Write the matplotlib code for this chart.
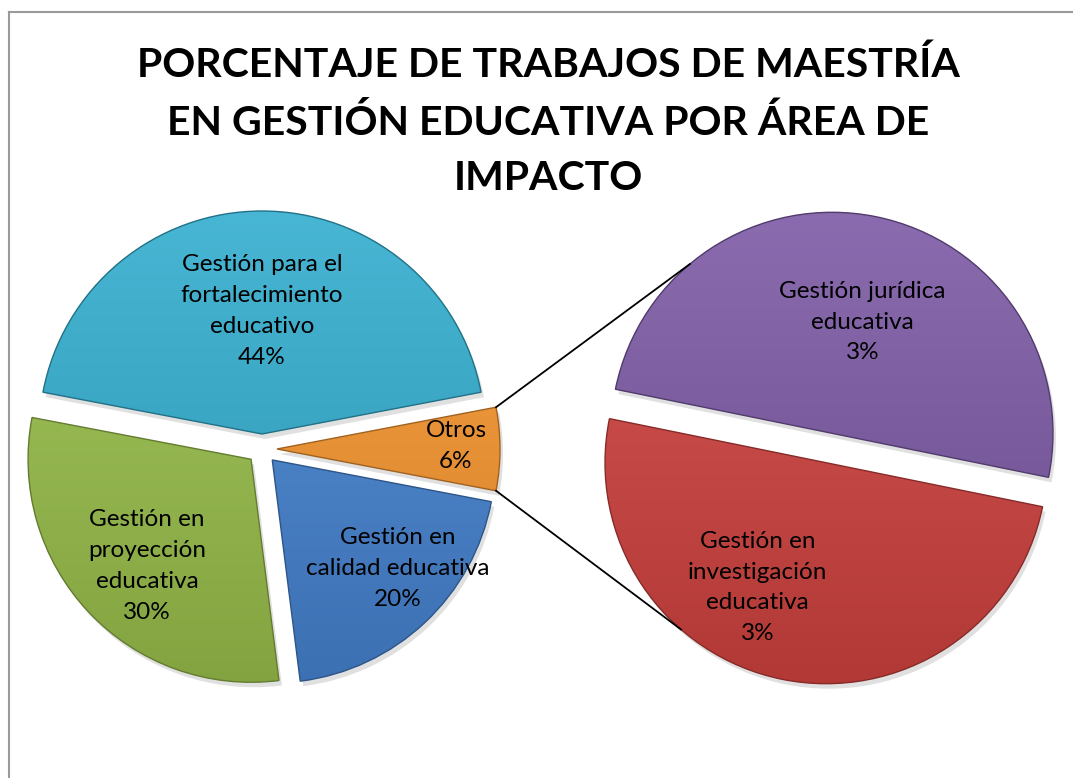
import numpy as np
import matplotlib
matplotlib.use('Agg')
import matplotlib.pyplot as plt
from matplotlib.colors import to_rgb
from matplotlib.patches import Wedge
from matplotlib.lines import Line2D

# ---------------- data ----------------
title = 'PORCENTAJE DE TRABAJOS DE MAESTRÍA\nEN GESTIÓN EDUCATIVA POR ÁREA DE\nIMPACTO'
main_labels = ['Gestión para el\nfortalecimiento\neducativo',
               'Gestión en\nproyección\neducativa',
               'Gestión en\ncalidad educativa',
               'Otros']
main_values = [44, 30, 20, 6]
sub_labels = ['Gestión jurídica\neducativa',
              'Gestión en\ninvestigación\neducativa']
sub_values = [3, 3]

# ---------------- style / layout ----------------
main_colors = ['#33AECF', '#98BE4A', '#4583D0', '#F7962F']
sub_colors = ['#7D5BA6', '#CF423F']
W, H = 1073, 778
main_center = (262, 329)
sub_center = (829, 330)
main_radius = 223
sub_radius = 221
explode_px = 15
main_start = 10.8
sub_start = -11.5
# label placement: (fraction of radius, angle in degrees) from pie centre
main_label_pos = [(0.62, 90), (0.735, 225.5), (0.81, -41.4), (0.87, 1)]
sub_label_pos = [(0.59, 75), (0.71, 242.8)]
connector_angles = (130, 229)

FONT = 'Lato'
plt.rcParams['font.family'] = [FONT, 'DejaVu Sans']

fig = plt.figure(figsize=(W / 100, H / 100), dpi=100)
ax = fig.add_axes([0, 0, 1, 1])


def shade(color, f):
    c = np.array(to_rgb(color))
    if f > 0:
        return c + (1 - c) * f
    return c * (1 + f)


def draw_pie(values, colors, center, radius, start):
    wedges, _ = ax.pie(values, colors=colors, startangle=start, counterclock=True,
                       radius=radius, center=center,
                       explode=[explode_px] * len(values),
                       wedgeprops=dict(linewidth=1.0), frame=False)
    for w, col in zip(wedges, colors):
        cx, cy = w.center
        r = w.r
        # soft shadow
        sh = Wedge((cx + 3, cy - 5), r, w.theta1, w.theta2, facecolor='black',
                   alpha=0.12, edgecolor='none', zorder=0.5)
        ax.add_patch(sh)
        # vertical gradient fill clipped to the wedge
        n = 256
        t = np.linspace(0, 1, n)[:, None]
        lo = shade(col, -0.14)
        hi = shade(col, 0.10)
        grad = (lo[None, :] * (1 - t) + hi[None, :] * t)[:, None, :]
        im = ax.imshow(grad, extent=[cx - r, cx + r, cy - r, cy + r],
                       origin='lower', aspect='auto', zorder=1,
                       interpolation='bilinear')
        im.set_clip_path(w)
        w.set_facecolor('none')
        w.set_edgecolor(shade(col, -0.35))
        w.set_zorder(2)
    return wedges


main_w = draw_pie(main_values, main_colors, main_center, main_radius, main_start)
sub_w = draw_pie(sub_values, sub_colors, sub_center, sub_radius, sub_start)

# labels
fs = 17.5
ls = 1.58
for lab, val, (fr, ang) in zip(main_labels, main_values, main_label_pos):
    x = main_center[0] + fr * main_radius * np.cos(np.radians(ang))
    y = main_center[1] + fr * main_radius * np.sin(np.radians(ang))
    ax.text(x, y, f'{lab}\n{val}%', ha='center', va='center', fontsize=fs,
            linespacing=ls, color='black', zorder=5)
for lab, val, (fr, ang) in zip(sub_labels, sub_values, sub_label_pos):
    x = sub_center[0] + fr * sub_radius * np.cos(np.radians(ang))
    y = sub_center[1] + fr * sub_radius * np.sin(np.radians(ang))
    ax.text(x, y, f'{lab}\n{val}%', ha='center', va='center', fontsize=fs,
            linespacing=ls, color='black', zorder=5)

# connector lines from "Otros" wedge corners to the secondary pie
ow = main_w[-1]
ocx, ocy = ow.center
p_top = (ocx + ow.r * np.cos(np.radians(ow.theta2)), ocy + ow.r * np.sin(np.radians(ow.theta2)))
p_bot = (ocx + ow.r * np.cos(np.radians(ow.theta1)), ocy + ow.r * np.sin(np.radians(ow.theta1)))
tw, bw = sub_w[0], sub_w[1]
q_top = (tw.center[0] + tw.r * np.cos(np.radians(connector_angles[0])),
         tw.center[1] + tw.r * np.sin(np.radians(connector_angles[0])))
q_bot = (bw.center[0] + bw.r * np.cos(np.radians(connector_angles[1])),
         bw.center[1] + bw.r * np.sin(np.radians(connector_angles[1])))
ax.add_line(Line2D([p_top[0], q_top[0]], [p_top[1], q_top[1]], color='black', lw=1.3, zorder=3))
ax.add_line(Line2D([p_bot[0], q_bot[0]], [p_bot[1], q_bot[1]], color='black', lw=1.3, zorder=3))

# title
ax.text(548, 656, title, ha='center', va='center', fontsize=29.5, fontweight='bold',
        linespacing=1.62, color='black', zorder=5)

# chart frame (cropped at right & bottom)
ax.add_line(Line2D([9, 9], [-5, H - 12], color='#9A9A9A', lw=1.5, zorder=6))
ax.add_line(Line2D([9, W + 5], [H - 12, H - 12], color='#9A9A9A', lw=1.5, zorder=6))

ax.set_xlim(0, W)
ax.set_ylim(0, H)
ax.set_aspect('auto')
ax.axis('off')
fig.savefig('out.png', dpi=100, facecolor='white')
